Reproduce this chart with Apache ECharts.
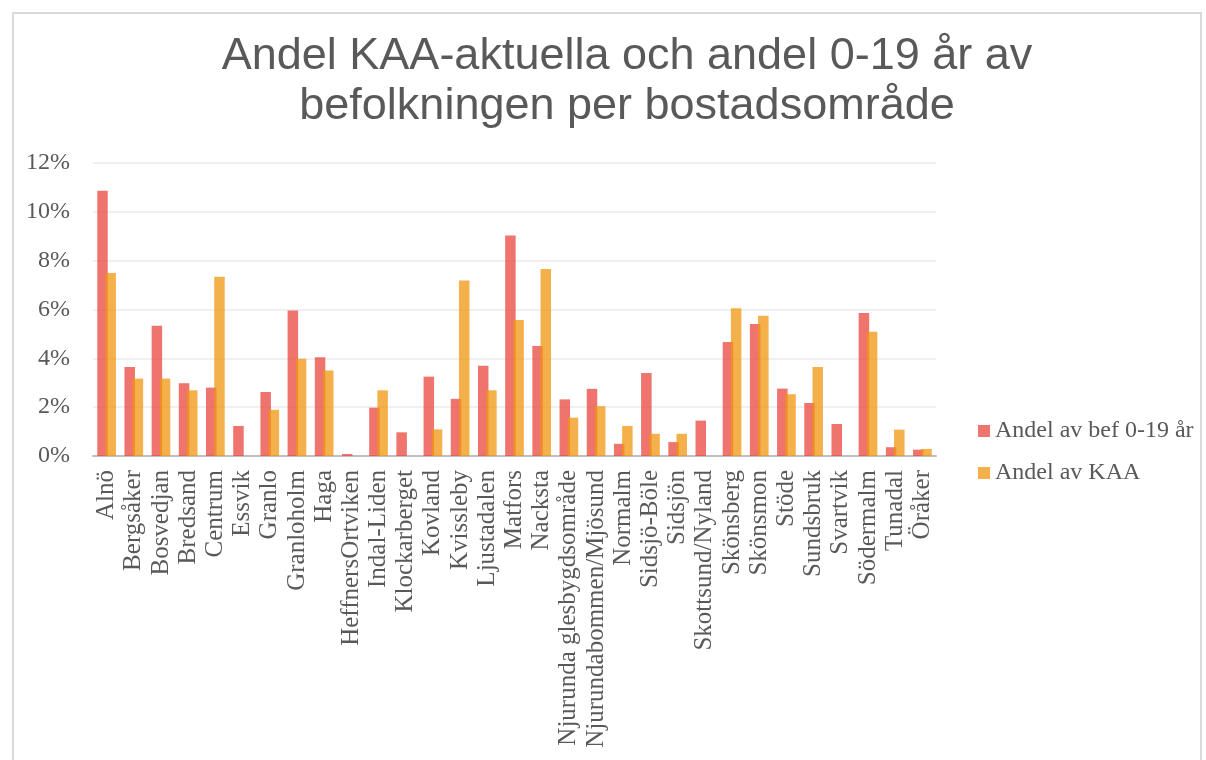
<!DOCTYPE html>
<html>
<head>
<meta charset="utf-8">
<script src="https://cdn.jsdelivr.net/npm/echarts@6/dist/echarts.min.js"></script>
<style>
  html, body { margin: 0; padding: 0; background: #fff; }
  #frame { position: absolute; left: 12px; top: 12px; width: 1190px; height: 760px; border: 2px solid #d9d9d9; box-sizing: border-box; }
  #chart { position: absolute; left: 0; top: 0; width: 1206px; height: 760px; }
</style>
</head>
<body>
<div id="frame"></div>
<div id="chart"></div>
<script>
// bostadsområden
var categories = ['Alnö', 'Bergsåker', 'Bosvedjan', 'Bredsand', 'Centrum', 'Essvik', 'Granlo',
  'Granloholm', 'Haga', 'HeffnersOrtviken', 'Indal-Liden', 'Klockarberget', 'Kovland', 'Kvissleby',
  'Ljustadalen', 'Matfors', 'Nacksta', 'Njurunda glesbygdsområde', 'Njurundabommen/Mjösund',
  'Normalm', 'Sidsjö-Böle', 'Sidsjön', 'Skottsund/Nyland', 'Skönsberg', 'Skönsmon', 'Stöde',
  'Sundsbruk', 'Svartvik', 'Södermalm', 'Tunadal', 'Öråker']

// andel av befolkningen 0-19 år (%)
var andelBef = [10.86, 3.65, 5.33, 2.98, 2.80, 1.23, 2.62, 5.96, 4.04, 0.08, 1.98, 0.97, 3.25, 2.34,
  3.70, 9.03, 4.51, 2.32, 2.75, 0.50, 3.40, 0.57, 1.45, 4.67, 5.41, 2.76, 2.17, 1.31, 5.86, 0.36, 0.26]

// andel av KAA-aktuella (%)
var andelKaa = [7.50, 3.17, 3.17, 2.69, 7.34, 0, 1.89, 3.98, 3.50, 0, 2.69, 0, 1.09, 7.19,
  2.69, 5.57, 7.66, 1.57, 2.04, 1.23, 0.91, 0.91, 0, 6.05, 5.74, 2.53, 3.65, 0, 5.09, 1.08, 0.29]

var seriesNames = ['Andel av bef 0-19 år', 'Andel av KAA']
var yTicks = { min: 0, max: 12, interval: 2 }

var textColor = '#595959'
var serif = '"Liberation Serif", "Times New Roman", serif'

var chart = echarts.init(document.getElementById('chart'))
chart.setOption({
  animation: false,
  title: {
    text: 'Andel KAA-aktuella och andel 0-19 år av\nbefolkningen per bostadsområde',
    left: 622,
    top: 27,
    textAlign: 'center',
    textStyle: {
      fontFamily: '"Liberation Sans", Arial, sans-serif',
      fontWeight: 'normal',
      fontSize: 45,
      lineHeight: 50,
      color: textColor
    }
  },
  grid: {
    left: 93,
    right: 270,
    top: 163,
    bottom: 304
  },
  legend: {
    orient: 'vertical',
    left: 973,
    top: 414,
    itemWidth: 12,
    itemHeight: 12,
    itemGap: 18,
    icon: 'rect',
    textStyle: {
      fontFamily: serif,
      fontSize: 24,
      color: textColor
    },
    data: seriesNames
  },
  xAxis: {
    type: 'category',
    data: categories,
    axisLine: { lineStyle: { color: '#bfbfbf', width: 2 } },
    axisTick: { show: false },
    axisLabel: {
      rotate: 90,
      interval: 0,
      margin: 14,
      fontFamily: serif,
      fontSize: 25,
      color: textColor
    }
  },
  yAxis: {
    type: 'value',
    min: yTicks.min,
    max: yTicks.max,
    interval: yTicks.interval,
    axisLine: { show: false },
    axisTick: { show: false },
    splitLine: { lineStyle: { color: '#f0f0f0', width: 2 } },
    axisLabel: {
      formatter: '{value}%',
      margin: 23,
      fontFamily: serif,
      fontSize: 24,
      color: textColor
    }
  },
  series: [{
    name: seriesNames[0],
    type: 'bar',
    data: andelBef,
    barWidth: 10.5,
    barGap: '-22%',
    itemStyle: { color: '#e8453c', opacity: 0.75 }
  }, {
    name: seriesNames[1],
    type: 'bar',
    data: andelKaa,
    barWidth: 10.5,
    itemStyle: { color: '#f0960f', opacity: 0.75 }
  }]
})
</script>
</body>
</html>
